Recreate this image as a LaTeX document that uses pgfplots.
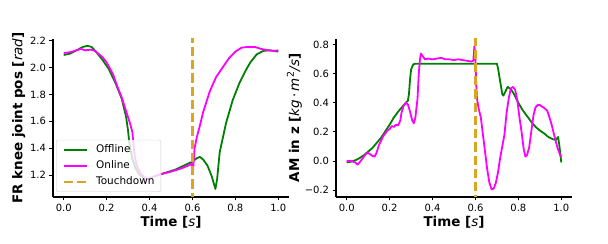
\documentclass[border=0pt]{standalone}
\usepackage{fontspec}
\setmainfont{DejaVu Sans}
\usepackage{pgfplots}
\pgfplotsset{compat=1.18}
\definecolor{cgreen}{RGB}{0,128,0}
\definecolor{cmag}{RGB}{255,0,255}
\definecolor{corange}{RGB}{218,165,32}
\definecolor{lgray}{RGB}{204,204,204}
\newcommand{\mi}[1]{{\mdseries\itshape #1}}
\pgfplotsset{
  base/.style={
    scale only axis, width=236bp, height=158bp,
    axis x line*=bottom, axis y line*=left,
    axis line style={line width=1.6bp, black},
    tick align=outside, major tick length=3.5bp,
    tick style={line width=0.9bp, black},
    ticklabel style={font=\fontsize{10}{12}\selectfont},
    label style={font=\fontsize{13.5}{15}\selectfont\bfseries},
    xmin=-0.05, xmax=1.05,
    xtick={0,0.2,0.4,0.6,0.8,1.0},
    xticklabels={0.0,0.2,0.4,0.6,0.8,1.0},
    xlabel={Time [\mi{s}]},
    xlabel shift=-2bp,
    clip=true,
  },
  off/.style={cgreen, line width=1.8bp, line join=round},
  on/.style={cmag, line width=1.8bp, line join=round},
  td/.style={corange, line width=2.4bp, dash pattern=on 9.25bp off 4bp},
}
\begin{document}
\begin{tikzpicture}
\begin{axis}[base, at={(53bp,47bp)}, anchor=south west,
  ymin=1.036, ymax=2.214,
  ytick={1.2,1.4,1.6,1.8,2.0,2.2},
  yticklabels={1.2,1.4,1.6,1.8,2.0,2.2},
  ylabel={FR knee joint pos [\mi{rad}]},
  ylabel shift=-2bp,
  legend style={at={(0.013,0.032)}, anchor=south west,
    font=\fontsize{10.5}{12}\selectfont, draw=lgray, fill=white,
    fill opacity=0.8, draw opacity=1, text opacity=1,
    rounded corners=2bp, inner xsep=6.5bp, inner ysep=5bp,
    row sep=6bp, column sep=8bp,
    nodes={inner sep=0pt, anchor=west, text height=7.7bp, text depth=2.2bp}},
  legend cell align=left,
  legend image code/.code={\draw[#1] (0bp,0bp) -- (23bp,0bp);},
]
\addplot[off] coordinates {
(0.00,2.095) (0.03,2.105) (0.06,2.13) (0.09,2.155) (0.11,2.163) (0.13,2.155)
(0.15,2.12) (0.18,2.06) (0.21,1.99) (0.24,1.89) (0.27,1.77) (0.29,1.64)
(0.30,1.53) (0.305,1.45) (0.31,1.40) (0.32,1.32) (0.335,1.25) (0.35,1.21)
(0.37,1.18) (0.39,1.17) (0.41,1.18) (0.44,1.20) (0.48,1.22) (0.52,1.24)
(0.56,1.27) (0.60,1.30) (0.62,1.325) (0.635,1.335) (0.65,1.315) (0.67,1.27)
(0.69,1.19) (0.707,1.096) (0.715,1.17) (0.727,1.37) (0.757,1.59) (0.788,1.76)
(0.82,1.89) (0.85,1.985) (0.87,2.04) (0.90,2.10) (0.93,2.125) (0.96,2.13)
(0.98,2.125) (1.00,2.12)
};
\addlegendentry{Offline}
\addplot[on] coordinates {
(0.00,2.11) (0.03,2.115) (0.06,2.13) (0.08,2.14) (0.10,2.13) (0.13,2.135)
(0.15,2.12) (0.18,2.08) (0.20,2.04) (0.23,1.95) (0.25,1.86) (0.27,1.78)
(0.29,1.68) (0.31,1.58) (0.32,1.52) (0.325,1.43) (0.33,1.35) (0.34,1.27)
(0.36,1.21) (0.38,1.175) (0.40,1.17) (0.42,1.19) (0.45,1.205) (0.50,1.225)
(0.55,1.25) (0.58,1.27) (0.595,1.285) (0.60,1.21) (0.603,1.24) (0.61,1.40)
(0.62,1.48) (0.635,1.57) (0.65,1.67) (0.68,1.82) (0.71,1.93) (0.74,2.00)
(0.77,2.07) (0.80,2.12) (0.83,2.15) (0.86,2.155) (0.89,2.155) (0.92,2.14)
(0.95,2.13) (0.98,2.125) (1.00,2.13)
};
\addlegendentry{Online}
\addplot[td] coordinates {(0.6,1.0) (0.6,2.3)};
\addlegendentry{Touchdown}
\end{axis}

\begin{axis}[base, at={(336bp,47bp)}, anchor=south west,
  ymin=-0.248, ymax=0.84,
  ytick={-0.2,0,0.2,0.4,0.6,0.8},
  yticklabels={−0.2,0.0,0.2,0.4,0.6,0.8},
  ylabel={AM in z [\mi{kg}\,{\mdseries·}\,\mi{m}{\mdseries\textsuperscript{2}}\mi{/s}]},
  ylabel shift=-4bp,
]
\addplot[off] coordinates {
(0.00,-0.01) (0.02,-0.005) (0.04,0.005) (0.06,0.02) (0.08,0.04) (0.10,0.065)
(0.12,0.09) (0.14,0.125) (0.16,0.16) (0.18,0.205) (0.20,0.25) (0.22,0.30)
(0.24,0.34) (0.26,0.375) (0.275,0.40) (0.285,0.415) (0.29,0.46) (0.295,0.56)
(0.30,0.63) (0.31,0.665) (0.32,0.67) (0.70,0.67) (0.705,0.64) (0.715,0.55)
(0.725,0.46) (0.73,0.45) (0.74,0.48) (0.75,0.51) (0.765,0.495) (0.78,0.46)
(0.80,0.40) (0.82,0.35) (0.84,0.31) (0.86,0.27) (0.88,0.235) (0.90,0.21)
(0.92,0.19) (0.94,0.165) (0.96,0.15) (0.975,0.145) (0.985,0.165) (0.99,0.12)
(1.00,-0.01)
};
\addplot[on] coordinates {
(0.00,0.00) (0.02,0.0) (0.03,-0.005) (0.04,-0.01) (0.05,-0.025) (0.06,-0.01)
(0.07,0.01) (0.08,0.03) (0.09,0.05) (0.10,0.055) (0.11,0.045) (0.12,0.035)
(0.13,0.03) (0.14,0.06) (0.15,0.11) (0.16,0.14) (0.17,0.17) (0.18,0.19)
(0.19,0.21) (0.20,0.22) (0.21,0.24) (0.22,0.235) (0.23,0.25) (0.24,0.245)
(0.25,0.28) (0.255,0.33) (0.265,0.38) (0.275,0.40) (0.285,0.39) (0.295,0.34)
(0.305,0.28) (0.313,0.26) (0.32,0.30) (0.33,0.43) (0.335,0.58) (0.34,0.68)
(0.345,0.74) (0.355,0.72) (0.365,0.70) (0.38,0.705) (0.40,0.70) (0.42,0.705)
(0.44,0.71) (0.46,0.70) (0.48,0.70) (0.50,0.695) (0.52,0.70) (0.54,0.695)
(0.56,0.69) (0.58,0.685) (0.59,0.69) (0.595,0.79) (0.60,0.70) (0.603,0.55)
(0.607,0.43) (0.615,0.36) (0.625,0.30) (0.635,0.18) (0.645,0.06) (0.655,-0.06)
(0.665,-0.15) (0.675,-0.195) (0.685,-0.19) (0.695,-0.15) (0.705,-0.08)
(0.715,0.02) (0.725,0.10) (0.735,0.18) (0.745,0.33) (0.755,0.43) (0.765,0.50)
(0.775,0.51) (0.785,0.49) (0.795,0.42) (0.805,0.30) (0.815,0.20) (0.825,0.08)
(0.833,0.03) (0.84,0.04) (0.85,0.09) (0.86,0.20) (0.87,0.31) (0.88,0.37)
(0.89,0.385) (0.90,0.385) (0.91,0.375) (0.925,0.36) (0.935,0.345) (0.945,0.30)
(0.955,0.25) (0.965,0.19) (0.975,0.13) (0.985,0.08) (0.995,0.04) (1.00,0.03)
};
\addplot[td] coordinates {(0.6,-0.3) (0.6,0.9)};
\end{axis}
\pgfresetboundingbox
\path[use as bounding box] (0,0) rectangle (608bp,244bp);
\end{tikzpicture}
\end{document}
